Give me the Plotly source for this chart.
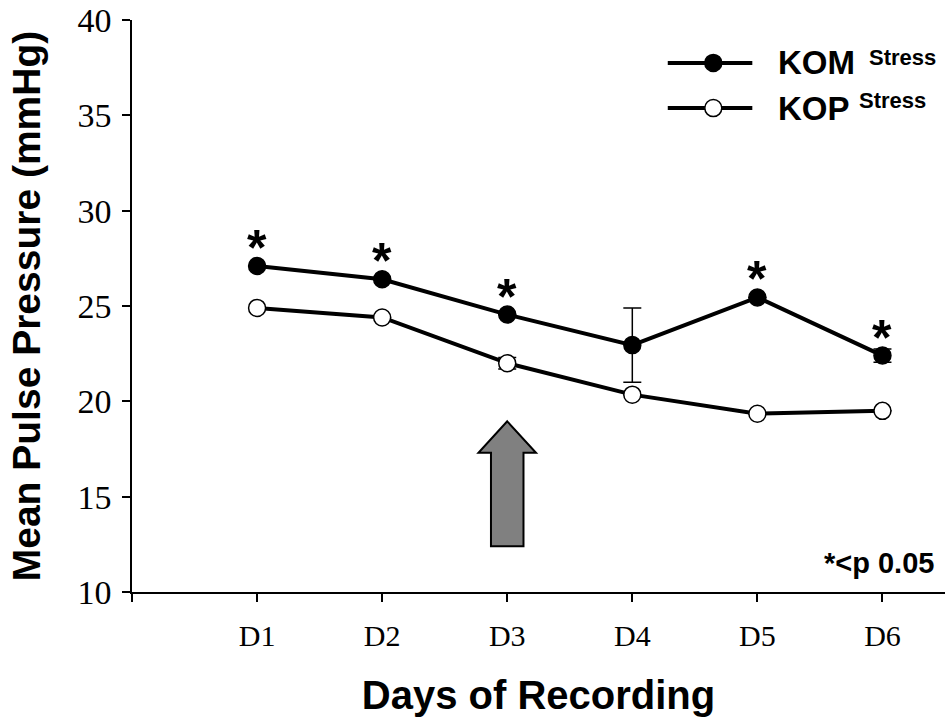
import plotly.graph_objects as go

days = ["D1", "D2", "D3", "D4", "D5", "D6"]
day_pos = [1, 2, 3, 4, 5, 6]
kom = [27.1, 26.4, 24.55, 22.95, 25.45, 22.4]
kom_err = [0.0, 0.0, 0.0, 1.95, 0.0, 0.35]
kop = [24.9, 24.4, 22.0, 20.35, 19.35, 19.5]
kop_err = [0.0, 0.0, 0.3, 0.0, 0.0, 0.0]
kom_sig = [True, True, True, False, True, True]
y_ticks = [10, 15, 20, 25, 30, 35, 40]

arrow_day = 3
arrow_tip = 18.95
arrow_head_base = 17.3
arrow_bottom = 12.4
arrow_head_half = 0.23
arrow_body_half = 0.13

fig = go.Figure()

fig.add_trace(go.Scatter(
    x=day_pos, y=kop, mode="lines+markers",
    line=dict(color="black", width=4),
    marker=dict(size=17, color="white", line=dict(color="black", width=1.5)),
    error_y=dict(type="data", array=kop_err, color="black", thickness=1.5, width=9),
    showlegend=False))
fig.add_trace(go.Scatter(
    x=day_pos, y=kom, mode="lines+markers",
    line=dict(color="black", width=4),
    marker=dict(size=17, color="black", line=dict(color="black", width=1.5)),
    error_y=dict(type="data", array=kom_err, color="black", thickness=1.5, width=9),
    showlegend=False))

# significance asterisks
for xv, yv, s in zip(day_pos, kom, kom_sig):
    if s:
        fig.add_annotation(x=xv, y=yv, text="<b>*</b>", showarrow=False,
                           yanchor="middle", yshift=18,
                           font=dict(family="Liberation Sans, Arial", size=50, color="black"))

# arrow
a = arrow_day
path = (f"M {a} {arrow_tip} L {a + arrow_head_half} {arrow_head_base} "
        f"L {a + arrow_body_half} {arrow_head_base} L {a + arrow_body_half} {arrow_bottom} "
        f"L {a - arrow_body_half} {arrow_bottom} L {a - arrow_body_half} {arrow_head_base} "
        f"L {a - arrow_head_half} {arrow_head_base} Z")
fig.add_shape(type="path", path=path, xref="x", yref="y",
              fillcolor="#808080", line=dict(color="black", width=2))

# manual legend
leg_rows = [("KOM", "black", 0.925), ("KOP", "white", 0.846)]
for name, fill, yp in leg_rows:
    fig.add_shape(type="line", xref="paper", yref="paper", x0=0.659, x1=0.763, y0=yp, y1=yp,
                  line=dict(color="black", width=4))
    fig.add_shape(type="circle", xref="paper", yref="paper", xsizemode="pixel", ysizemode="pixel",
                  xanchor=0.715, yanchor=yp, x0=-8.5, x1=8.5, y0=-8.5, y1=8.5,
                  fillcolor=fill, line=dict(color="black", width=1.5))
    fig.add_annotation(xref="paper", yref="paper", x=0.792, y=yp, xanchor="left", yanchor="middle",
                       text=f"<b>{name}</b>", showarrow=False,
                       font=dict(family="Liberation Sans, Arial", size=33, color="black"))
fig.add_annotation(xref="paper", yref="paper", x=0.904, y=0.935, xanchor="left", yanchor="middle",
                   text="<b>Stress</b>", showarrow=False,
                   font=dict(family="Liberation Sans, Arial", size=22, color="black"))
fig.add_annotation(xref="paper", yref="paper", x=0.892, y=0.860, xanchor="left", yanchor="middle",
                   text="<b>Stress</b>", showarrow=False,
                   font=dict(family="Liberation Sans, Arial", size=22, color="black"))

fig.add_annotation(xref="paper", yref="paper", x=0.989, y=0.05, xanchor="right", yanchor="middle",
                   text="<b>*&lt;p 0.05</b>", showarrow=False,
                   font=dict(family="Liberation Sans, Arial", size=29, color="black"))

fig.update_layout(
    width=950, height=722,
    margin=dict(l=132, r=5, t=20, b=130, autoexpand=False),
    plot_bgcolor="white", paper_bgcolor="white",
    font=dict(family="Liberation Serif, Times New Roman", color="black"),
    xaxis=dict(range=[0, 6.5], tickvals=[0] + day_pos, ticktext=[""] + days,
               showgrid=False, zeroline=False, showline=True, linecolor="black", linewidth=1.5,
               ticks="outside", ticklen=8, tickwidth=1.5, tickcolor="black", automargin=False,
               ticklabelstandoff=8,
               tickfont=dict(size=30, family="Liberation Serif, Times New Roman"),
               title=dict(text="<b>Days of Recording</b>", standoff=30,
                          font=dict(family="Liberation Sans, Arial", size=40))),
    yaxis=dict(range=[10, 40], tickvals=y_ticks,
               showgrid=False, zeroline=False, showline=True, linecolor="black", linewidth=1.5,
               ticks="outside", ticklen=8, tickwidth=1.5, tickcolor="black", automargin=False,
               ticklabelstandoff=4,
               tickfont=dict(size=34, family="Liberation Serif, Times New Roman"),
               title=dict(text="<b>Mean Pulse Pressure (mmHg)</b>", standoff=25,
                          font=dict(family="Liberation Sans, Arial", size=39))),
)

fig.write_html("out.html", config={"displayModeBar": False},
               post_script="document.body.style.margin='0';document.body.style.padding='0';")
